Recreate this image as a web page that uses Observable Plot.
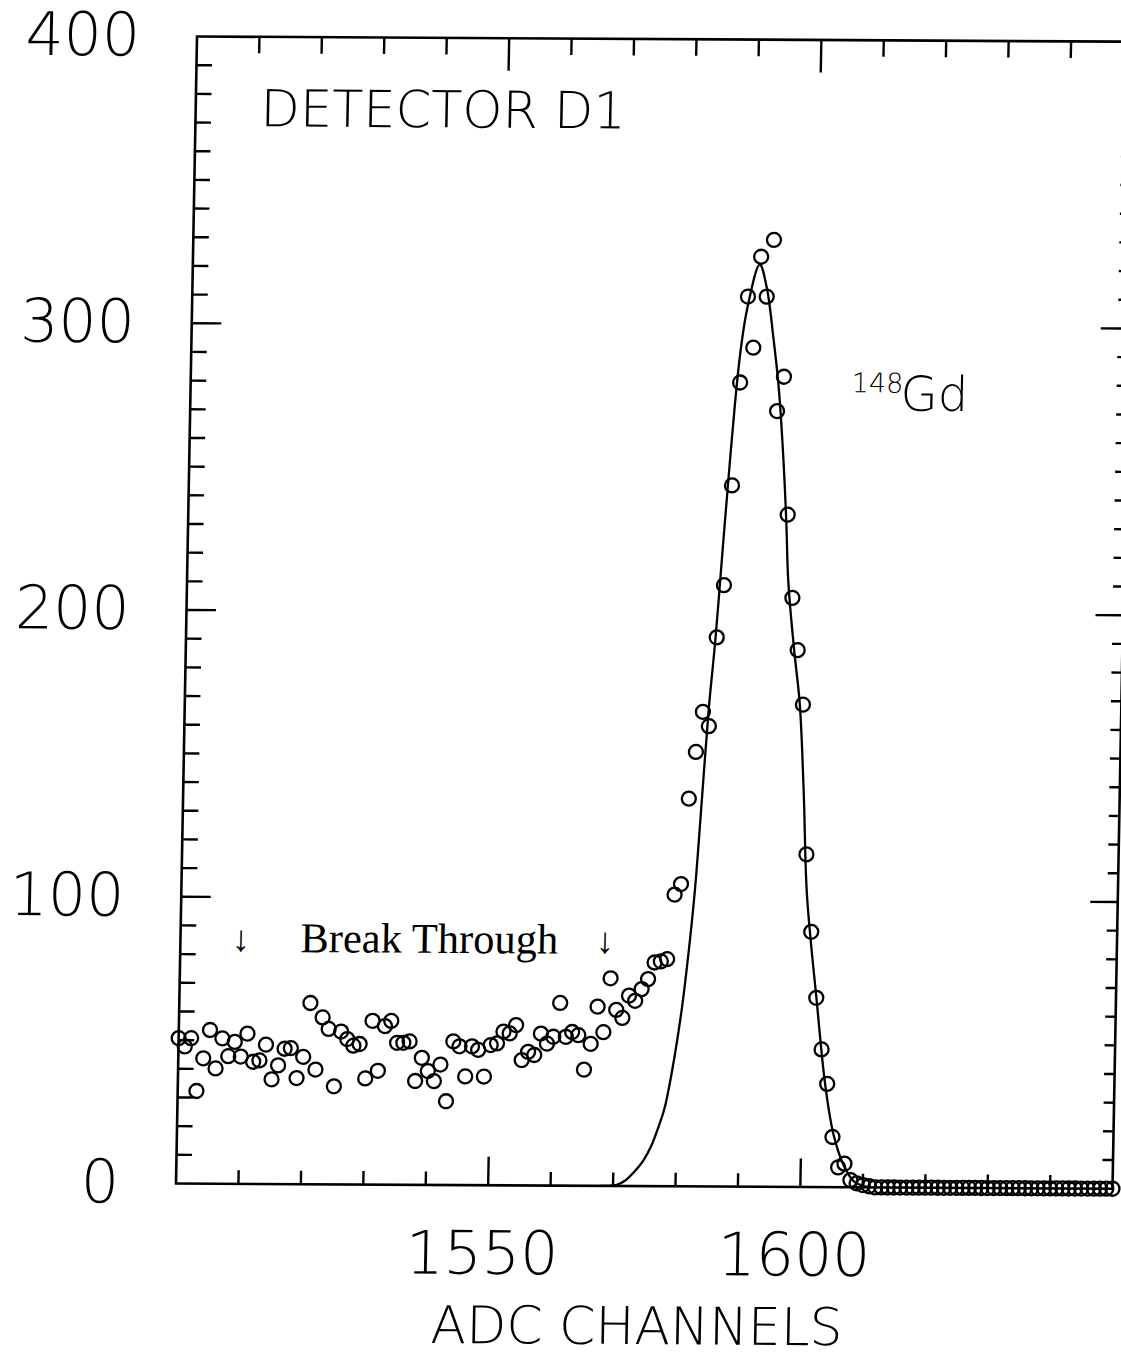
<!DOCTYPE html>
<html>
<head>
<meta charset="utf-8">
<script src="https://cdn.jsdelivr.net/npm/d3@7"></script>
<script src="https://cdn.jsdelivr.net/npm/@observablehq/plot@0.6"></script>
<style>
  html, body { margin: 0; padding: 0; background: #fff; overflow: hidden; }
  #chart { width: 1121px; height: 1355px; }
</style>
</head>
<body>
<div id="chart"></div>
<script>
// ---- data ----
const firstChannel = 1500;
// counts per ADC channel, 1500 .. 1650
const counts = [
  50.7, 47.8, 50.7, 32.3, 43.7, 53.6, 40.2, 50.7, 44.5, 49.5,   // 1500-1509
  44.4, 52.4, 42.6, 43.1, 48.6, 36.5, 41.4, 47.2, 47.4, 37.0,   // 1510-1519
  44.4, 63.2, 40.0, 58.2, 54.2, 34.2, 53.3, 50.7, 48.4, 49.0,   // 1520-1529
  37.0, 57.1, 39.7, 55.3, 57.1, 49.5, 49.5, 50.0, 36.2, 44.3,   // 1530-1539
  39.7, 36.2, 42.0, 29.2, 50.1, 48.4, 37.9, 48.4, 47.2, 37.9,   // 1540-1549
  48.9, 49.5, 53.6, 53.0, 55.9, 43.7, 46.6, 45.5, 53.0, 49.5,   // 1550-1559
  51.9, 63.7, 51.9, 53.6, 52.5, 40.5, 49.5, 62.5, 53.6, 72.4,   // 1560-1569
  61.4, 58.6, 66.4, 64.6, 68.7, 72.2, 78.0, 78.4, 79.2, 101.7,  // 1570-1579
  105.4, 135.2, 151.5, 165.5, 160.5, 191.5, 209.7, 244.5, 280.4, 310.4, // 1580-1589
  292.6, 324.3, 310.4, 330.2, 270.5, 282.5, 234.4, 205.4, 187.2, 168.2, // 1590-1599
  116.0, 89.0, 66.0, 48.0, 36.0, 17.5, 6.9, 8.2, 2.5, 1.4,      // 1600-1609
  0.8, 0.4, 0, 0, 0, 0, 0, 0, 0, 0,                             // 1610-1619
  0, 0, 0, 0, 0, 0, 0, 0, 0, 0,                                 // 1620-1629
  0, 0, 0, 0, 0, 0, 0, 0, 0, 0,                                 // 1630-1639
  0, 0, 0, 0, 0, 0, 0, 0, 0, 0,                                 // 1640-1649
  0                                                             // 1650
];
// fitted 148Gd peak curve
const fitChannel = [1568.0, 1570.6, 1572.0, 1573.3, 1574.8, 1576.0, 1577.0, 1578.0, 1579.1, 1580.5,
  1581.6, 1582.3, 1583.1, 1583.9, 1584.8, 1585.6, 1586.3, 1587.2, 1587.9, 1588.9,
  1590.8, 1592.0, 1593.2, 1594.2, 1595.1, 1595.8, 1596.3, 1597.4, 1598.5, 1599.4,
  1600.2, 1602.1, 1603.7, 1605.2, 1606.9, 1608.6, 1611.0];
const fitCounts = [0, 0.4, 2.0, 4.8, 9.0, 14.0, 20.0, 27.0, 40.0, 62.0,
  86.0, 105.0, 135.0, 165.5, 191, 219, 243, 272, 289.9, 306,
  321.6, 313.4, 296, 278.6, 255.4, 232, 211, 187.9, 168.3, 137,
  102, 64.5, 35.5, 18, 7.6, 2, 0];
// ticks
const xLabelTicks = [1550, 1600];
const xMinorTicks = [1510, 1520, 1530, 1540, 1560, 1570, 1580, 1590, 1610, 1620, 1630, 1640];
const yLabelTicks = [0, 100, 200, 300, 400];
const yMajorTicks = [100, 200, 300];
const yMinorTicks = [10, 20, 30, 40, 50, 60, 70, 80, 90, 110, 120, 130, 140, 150, 160, 170, 180, 190,
  210, 220, 230, 240, 250, 260, 270, 280, 290, 310, 320, 330, 340, 350, 360, 370, 380, 390];
// texts
const panelTitle = ["DETECTOR D1"];
const isotopeMass = ["148"];
const isotopeSymbol = ["Gd"];
const regionLabel = ["Break Through"];
const arrowGlyph = ["\u2193"];
const xTitle = ["ADC CHANNELS"];

// ---- build ----
const points = counts.map((v, i) => ({channel: firstChannel + i, count: v}));
const fit = fitChannel.map((c, i) => ({channel: c, count: fitCounts[i]}));

const tickStroke = 2.4;
const sans = "'DejaVu Sans', 'Liberation Sans', sans-serif";
const serif = "'Liberation Serif', 'DejaVu Serif', serif";

const chart = Plot.plot({
  width: 1121,
  height: 1355,
  marginLeft: 175.5,
  marginRight: 9,
  marginTop: 36,
  marginBottom: 172,
  x: {domain: [1500, 1650]},
  y: {domain: [0, 400]},
  style: {fontFamily: sans, fontWeight: 200, background: "#fff", color: "#000", overflow: "visible"},
  marks: [
    Plot.frame({stroke: "#000", strokeWidth: 2.6}),
    // inward ticks
    Plot.axisX(xMinorTicks, {anchor: "bottom", tickSize: -13, strokeWidth: tickStroke, fill: "none", label: null}),
    Plot.axisX(xLabelTicks, {anchor: "bottom", tickSize: -28, strokeWidth: tickStroke, fill: "none", label: null}),
    Plot.axisX(xMinorTicks, {anchor: "top", tickSize: -16, strokeWidth: tickStroke, fill: "none", label: null}),
    Plot.axisX(xLabelTicks, {anchor: "top", tickSize: -32, strokeWidth: tickStroke, fill: "none", label: null}),
    Plot.axisY(yMinorTicks, {anchor: "left", tickSize: -16, strokeWidth: tickStroke, fill: "none", label: null}),
    Plot.axisY(yMajorTicks, {anchor: "left", tickSize: -30, strokeWidth: tickStroke, fill: "none", label: null}),
    Plot.axisY(yMinorTicks, {anchor: "right", tickSize: -11, strokeWidth: tickStroke, fill: "none", label: null}),
    Plot.axisY(yMajorTicks, {anchor: "right", tickSize: -28, strokeWidth: tickStroke, fill: "none", label: null}),
    // tick labels
    Plot.axisX(xLabelTicks, {anchor: "bottom", tickSize: 0, tickPadding: 46, fontSize: 60, dx: -5,
      tickFormat: d => String(d), label: null}),
    Plot.axisY(yLabelTicks, {anchor: "left", tickSize: 0, tickPadding: 57, fontSize: 60,
      tickFormat: d => String(d), label: null}),
    // data
    Plot.line(fit, {x: "channel", y: "count", curve: "catmull-rom", stroke: "#000", strokeWidth: 2.3}),
    Plot.dot(points, {x: "channel", y: "count", r: 7, stroke: "#000", strokeWidth: 2.3, fill: "none"}),
    // annotations
    Plot.text(panelTitle, {text: d => d, frameAnchor: "top-left", dx: 65, dy: 89.5, lineAnchor: "bottom",
      textAnchor: "start", fontSize: 51}),
    Plot.text(isotopeMass, {text: d => d, frameAnchor: "top-left", dx: 661, dy: 352, lineAnchor: "bottom",
      textAnchor: "start", fontSize: 27}),
    Plot.text(isotopeSymbol, {text: d => d, frameAnchor: "top-left", dx: 710, dy: 370, lineAnchor: "bottom",
      textAnchor: "start", fontSize: 48}),
    Plot.text(regionLabel, {text: d => d, frameAnchor: "top-left", dx: 120, dy: 915, lineAnchor: "bottom",
      textAnchor: "start", fontSize: 42.5, fontFamily: serif, fontWeight: 400, fill: "#000"}),
    Plot.text(arrowGlyph, {text: d => d, frameAnchor: "top-left", dx: 60.5, dy: 902.5, lineAnchor: "middle",
      textAnchor: "middle", fontSize: 36, fontFamily: serif, fontWeight: 400, fill: "#000"}),
    Plot.text(arrowGlyph, {text: d => d, frameAnchor: "top-left", dx: 424.5, dy: 902.5, lineAnchor: "middle",
      textAnchor: "middle", fontSize: 36, fontFamily: serif, fontWeight: 400, fill: "#000"}),
    Plot.text(xTitle, {text: d => d, frameAnchor: "bottom", dx: -5, dy: 158, lineAnchor: "bottom",
      textAnchor: "middle", fontSize: 52})
  ]
});

// the scanned original is slightly sheared; reproduce that tilt
chart.style.transformOrigin = "175.5px 1183px";
chart.style.transform = "skew(-1.05deg, 0.32deg)";
document.getElementById("chart").appendChild(chart);
</script>
</body>
</html>
